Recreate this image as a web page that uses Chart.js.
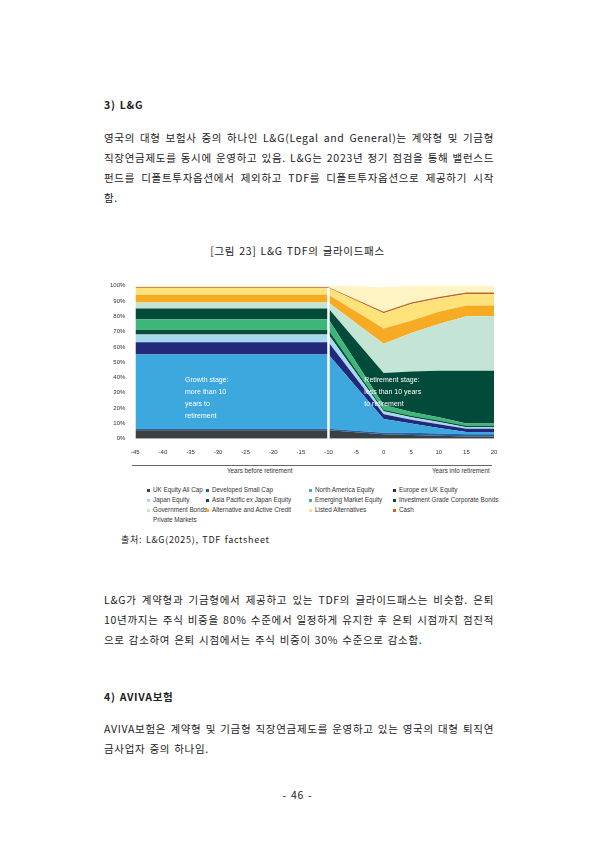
<!DOCTYPE html><html><head><meta charset="utf-8">
<script src="https://cdn.jsdelivr.net/npm/chart.js"></script>
<style>
body{margin:0;width:595px;height:842px;position:relative;background:#fff;font-family:"Noto Sans CJK KR";color:#222}
.t{position:absolute;font-size:10.5px;line-height:20px;letter-spacing:0.7px;word-spacing:1px}
#wrap{position:absolute;left:108px;top:280px;width:392px;height:178px}
.lg{position:absolute;font-family:Arial,"Liberation Sans";font-size:6.3px;color:#333;white-space:nowrap}
.lg span{display:inline-block;width:3px;height:3px;margin-right:3px;vertical-align:middle}
</style></head><body>
<div class="t" style="left:104px;top:95px;font-weight:bold">3) L&amp;G</div>
<div class="t" style="left:104px;top:128px;width:390px;text-align:justify">영국의 대형 보험사 중의 하나인 L&amp;G(Legal and General)는 계약형 및 기금형 직장연금제도를 동시에 운영하고 있음. L&amp;G는 2023년 정기 점검을 통해 밸런스드펀드를 디폴트투자옵션에서 제외하고 TDF를 디폴트투자옵션으로 제공하기 시작함.</div>
<div class="t" style="left:0;width:595px;top:241px;text-align:center">[그림 23] L&amp;G TDF의 글라이드패스</div>
<div id="wrap"><canvas id="c" width="392" height="178"></canvas></div>
<div style="position:absolute;left:132px;top:465px;width:360px;border-top:1px solid #666"></div>
<div class="lg" style="left:227px;top:467px">Years before retirement</div>
<div class="lg" style="left:432px;top:467px">Years into retirement</div>
<div id="legend"></div>
<div class="t" style="left:121px;top:530px;font-size:9px">출처: L&amp;G(2025), TDF factsheet</div>
<div class="t" style="left:104px;top:590px;width:390px;text-align:justify">L&amp;G가 계약형과 기금형에서 제공하고 있는 TDF의 글라이드패스는 비슷함. 은퇴 10년까지는 주식 비중을 80% 수준에서 일정하게 유지한 후 은퇴 시점까지 점진적으로 감소하여 은퇴 시점에서는 주식 비중이 30% 수준으로 감소함.</div>
<div class="t" style="left:104px;top:687px;font-weight:bold">4) AVIVA보험</div>
<div class="t" style="left:104px;top:719px;width:390px;text-align:justify">AVIVA보험은 계약형 및 기금형 직장연금제도를 운영하고 있는 영국의 대형 퇴직연금사업자 중의 하나임.</div>
<div class="t" style="left:0;width:595px;top:785px;text-align:center">- 46 -</div>
<script>
const years=[-45,-10,0,5,10,15,20];
const seriesNames=["UK Equity All Cap","Developed Small Cap","North America Equity","Europe ex UK Equity","Japan Equity","Asia Pacific ex Japan Equity","Emerging Market Equity","Investment Grade Corporate Bonds","Government Bonds","Alternative and Active Credit","Listed Alternatives","Cash","Private Markets"];
const ukEquity=[5.5,5.5,3,2.5,2,1.5,1.5];
const devSmallCap=[1,1,1,1.5,1.5,1.5,1.5];
const northAmerica=[48.5,48.5,9,6,3.5,1.5,1.5];
const europeExUK=[8,8,3,2.5,2.5,2,2];
const japan=[5,5,2,1.5,1.5,1,1];
const asiaPac=[3,3,1,1,1,1,1];
const emerging=[7,7,3,2.5,2,1.5,1.5];
const igCorp=[7,7,21,26.5,30.5,34.5,34.5];
const govBonds=[4,4,19,25,30.5,35.5,35.5];
const altCredit=[5,5,10,8,8,7,7];
const listedAlt=[4.5,4.5,10,11,8.5,7.5,7.5];
const cash=[0.5,0.5,1,1,1,1,1];
const privateMkts=[1,1,16,11,7.5,4.5,4.5];
const yTicks=["0%","10%","20%","30%","40%","50%","60%","70%","80%","90%","100%"];
const all=[ukEquity,devSmallCap,northAmerica,europeExUK,japan,asiaPac,emerging,igCorp,govBonds,altCredit,listedAlt,cash,privateMkts];
const colors=["#3b4043","#1e63ad","#3ca8de","#212a7a","#a6d9ef","#0b4d3b","#3cb679","#024a3a","#c4e5d5","#f7ab22","#fde37a","#c4622a","#fff5c4"];
const legendOrder=[[0,1,2,3],[4,5,6,7],[8,9,10,11],[12]];
let html="";const lx=[147,206,309,393];
legendOrder.forEach((row,r)=>row.forEach((i,c)=>{html+=`<div class="lg" style="left:${lx[c]}px;top:${486+r*10}px">${i==12?'<span style="background:transparent"></span>':`<span style="background:${colors[i]}"></span>`}${seriesNames[i]}</div>`;}));
document.getElementById('legend').innerHTML=html;
const overlay={id:'ov',afterDatasetsDraw(ch){const{ctx,scales:{x,y}}=ch;ctx.save();ctx.strokeStyle='#fff';ctx.lineWidth=2.5;ctx.beginPath();ctx.moveTo(x.getPixelForValue(-10),y.getPixelForValue(0));ctx.lineTo(x.getPixelForValue(-10),y.getPixelForValue(98.5));ctx.stroke();
ctx.fillStyle='#fff';ctx.font='7px Arial';["Growth stage:","more than 10","years to","retirement"].forEach((s,i)=>ctx.fillText(s,x.getPixelForValue(-36),y.getPixelForValue(37)+i*12));
["Retirement stage:","less than 10 years","to retirement"].forEach((s,i)=>ctx.fillText(s,x.getPixelForValue(-3.5),y.getPixelForValue(37)+i*12));ctx.restore();}};
new Chart(document.getElementById('c'),{type:'line',data:{labels:years,datasets:all.map((d,i)=>({label:seriesNames[i],data:years.map((x,j)=>({x,y:d[j]})),backgroundColor:colors[i],borderColor:colors[i],borderWidth:0,pointRadius:0,fill:i==0?'origin':'-1',tension:0}))},
options:{responsive:false,animation:false,layout:{padding:{right:6,top:4}},plugins:{legend:{display:false},tooltip:{enabled:false}},
scales:{x:{type:'linear',min:-45,max:20,ticks:{stepSize:5,font:{size:6},color:'#333',padding:2,maxRotation:0},grid:{display:false},border:{display:false}},
y:{stacked:true,min:0,max:100,ticks:{stepSize:10,font:{size:6},color:'#333',padding:2,callback:(v,i)=>yTicks[i]},grid:{display:false},border:{display:false}}}},plugins:[overlay]});
</script></body></html>
